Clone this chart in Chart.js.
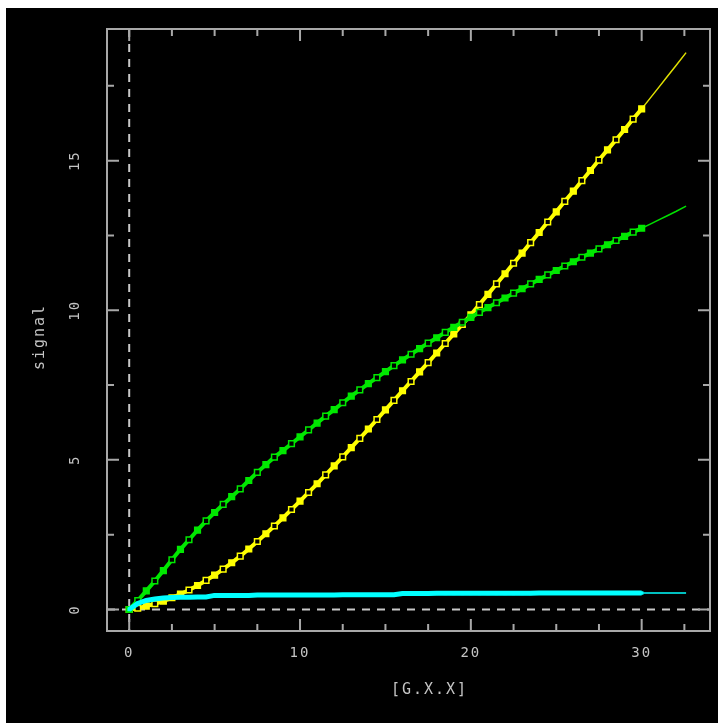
<!DOCTYPE html>
<html>
<head>
<meta charset="utf-8">
<script src="https://cdn.jsdelivr.net/npm/chart.js@4.4.1/dist/chart.umd.min.js"></script>
<style>
  body { margin: 0; background: #fff; }
  #c { position: absolute; left: 6px; top: 8px; }
</style>
</head>
<body>
<canvas id="c" width="712" height="715"></canvas>
<script>
// x positions of the marked points
var xs = [0, 0.5, 1, 1.5, 2, 2.5, 3, 3.5, 4, 4.5, 5, 5.5, 6, 6.5, 7, 7.5, 8, 8.5, 9, 9.5,
  10, 10.5, 11, 11.5, 12, 12.5, 13, 13.5, 14, 14.5, 15, 15.5, 16, 16.5, 17, 17.5, 18, 18.5, 19, 19.5,
  20, 20.5, 21, 21.5, 22, 22.5, 23, 23.5, 24, 24.5, 25, 25.5, 26, 26.5, 27, 27.5, 28, 28.5, 29, 29.5, 30];

var greenY = [0, 0.30, 0.62, 0.95, 1.30, 1.66, 2.01, 2.33, 2.65, 2.96, 3.24, 3.51, 3.77, 4.03, 4.31, 4.58, 4.84, 5.09, 5.31, 5.54,
  5.77, 6.00, 6.23, 6.46, 6.68, 6.91, 7.13, 7.34, 7.55, 7.75, 7.95, 8.15, 8.34, 8.53, 8.72, 8.90, 9.08, 9.26, 9.43, 9.60,
  9.76, 9.93, 10.09, 10.25, 10.41, 10.57, 10.72, 10.88, 11.03, 11.18, 11.33, 11.48, 11.62, 11.77, 11.91, 12.05, 12.19, 12.33, 12.47, 12.61, 12.74];

var yellowY = [0, 0.04, 0.11, 0.19, 0.28, 0.39, 0.51, 0.65, 0.80, 0.97, 1.15, 1.35, 1.56, 1.78, 2.02, 2.27, 2.53, 2.79, 3.06, 3.34,
  3.62, 3.91, 4.20, 4.50, 4.80, 5.10, 5.41, 5.72, 6.03, 6.35, 6.67, 6.99, 7.31, 7.62, 7.94, 8.25, 8.57, 8.89, 9.21, 9.53,
  9.85, 10.19, 10.53, 10.88, 11.22, 11.57, 11.91, 12.26, 12.60, 12.95, 13.29, 13.64, 13.98, 14.33, 14.67, 15.02, 15.36, 15.70, 16.04, 16.39, 16.73];

var cyanY = [0, 0.20, 0.30, 0.35, 0.38, 0.40, 0.41, 0.41, 0.42, 0.42, 0.47, 0.47, 0.47, 0.47, 0.47, 0.48, 0.48, 0.48, 0.48, 0.48,
  0.48, 0.48, 0.48, 0.48, 0.48, 0.49, 0.49, 0.49, 0.49, 0.49, 0.49, 0.49, 0.53, 0.53, 0.53, 0.53, 0.54, 0.54, 0.54, 0.54,
  0.54, 0.54, 0.54, 0.54, 0.54, 0.54, 0.54, 0.54, 0.55, 0.55, 0.55, 0.55, 0.55, 0.55, 0.55, 0.55, 0.55, 0.55, 0.55, 0.55, 0.55];

// thin continuation past the last marker
var tailX = [30, 30.5, 31, 31.5, 32, 32.6];
var greenTail = [12.74, 12.88, 13.02, 13.16, 13.30, 13.48];
var yellowTail = [16.73, 17.09, 17.45, 17.81, 18.17, 18.61];
var cyanTail = [0.55, 0.55, 0.55, 0.55, 0.55, 0.55];

var xTitle = '[G.X.X]';
var yTitle = 'signal';

var FONT = '"DejaVu Sans Mono", "Liberation Mono", monospace';
var TXT = '#c4c4c4';

function pts(x, y) {
  return x.map(function (v, i) { return { x: v, y: y[i] }; });
}

function marked(label, x, y, color) {
  return {
    label: label,
    data: pts(x, y),
    showLine: true,
    borderColor: color,
    borderWidth: 4,
    pointStyle: 'rect',
    pointRadius: 4,
    pointBorderWidth: 1.5,
    pointBorderColor: color,
    pointBackgroundColor: function (c) { return c.dataIndex % 2 ? '#000' : color; }
  };
}

function thin(label, x, y, color) {
  return {
    label: label,
    data: pts(x, y),
    showLine: true,
    borderColor: color,
    borderWidth: 1.5,
    pointRadius: 0
  };
}

var framePlugin = {
  id: 'frame',
  beforeUpdate: function (chart) { chart.ctx.letterSpacing = '2px'; },
  beforeDraw: function (chart) {
    var c = chart.ctx;
    c.save();
    c.fillStyle = '#000';
    c.fillRect(0, 0, chart.width, chart.height);
    c.restore();
    c.letterSpacing = '2px';
  },
  beforeDatasetsDraw: function (chart) {
    var c = chart.ctx, a = chart.chartArea;
    var px = chart.scales.x.getPixelForValue(0);
    var py = chart.scales.y.getPixelForValue(0);
    c.save();
    c.strokeStyle = '#c8c8c8';
    c.lineWidth = 2;
    c.setLineDash([8, 7]);
    c.beginPath();
    c.moveTo(px, a.top); c.lineTo(px, a.bottom);
    c.moveTo(a.left, py); c.lineTo(a.right, py);
    c.stroke();
    c.restore();
  },
  afterDraw: function (chart) {
    var c = chart.ctx, a = chart.chartArea;
    var sx = chart.scales.x, sy = chart.scales.y;
    c.save();
    c.strokeStyle = '#a8a8a8';
    c.lineWidth = 2;
    c.strokeRect(a.left, a.top, a.right - a.left, a.bottom - a.top);
    c.beginPath();
    for (var v = 0; v <= sx.max; v += 2.5) {
      var p = sx.getPixelForValue(v);
      var len = v % 10 === 0 ? 12 : 7;
      c.moveTo(p, a.bottom); c.lineTo(p, a.bottom - len);
      c.moveTo(p, a.top); c.lineTo(p, a.top + len);
    }
    for (var w = 0; w <= sy.max; w += 2.5) {
      var q = sy.getPixelForValue(w);
      var ln = w % 5 === 0 ? 12 : 7;
      c.moveTo(a.left, q); c.lineTo(a.left + ln, q);
      c.moveTo(a.right, q); c.lineTo(a.right - ln, q);
    }
    c.stroke();

    // axis titles
    c.fillStyle = TXT;
    c.font = '15px ' + FONT;
    c.letterSpacing = '2px';
    c.textAlign = 'center';
    c.textBaseline = 'middle';
    c.fillText(xTitle, (a.left + a.right) / 2 + 21, a.bottom + 59);
    c.translate(34, (a.top + a.bottom) / 2 + 7);
    c.rotate(-Math.PI / 2);
    c.fillText(yTitle, 0, 0);
    c.restore();
  }
};

var chart = new Chart(document.getElementById('c').getContext('2d'), {
  type: 'scatter',
  data: {
    datasets: [
      {
        label: 'cyan',
        data: pts(xs, cyanY),
        showLine: true,
        borderColor: '#00ffff',
        borderWidth: 5,
        pointStyle: 'rect',
        pointRadius: 2.5,
        pointBorderWidth: 0,
        pointBackgroundColor: '#00ffff'
      },
      marked('green', xs, greenY, '#00e800'),
      marked('yellow', xs, yellowY, '#ffff00'),
      thin('cyan tail', tailX, cyanTail, '#00ffff'),
      thin('green tail', tailX, greenTail, '#00e000'),
      thin('yellow tail', tailX, yellowTail, '#e0e000')
    ]
  },
  options: {
    responsive: false,
    animation: false,
    devicePixelRatio: 1,
    layout: { padding: { top: 21, right: 8, left: 0, bottom: 0 } },
    plugins: { legend: { display: false }, tooltip: { enabled: false } },
    scales: {
      x: {
        type: 'linear',
        position: 'bottom',
        min: -1.3,
        max: 34.0,
        afterFit: function (s) { s.height = 92; s.paddingLeft = 0; s.paddingRight = 0; },
        grid: { display: false },
        border: { display: false },
        ticks: { stepSize: 10, includeBounds: false, maxRotation: 0, padding: 6, color: TXT, font: { family: FONT, size: 14 } }
      },
      y: {
        type: 'linear',
        position: 'left',
        min: -0.72,
        max: 19.4,
        afterFit: function (s) { s.width = 101; s.paddingTop = 0; s.paddingBottom = 0; },
        grid: { display: false },
        border: { display: false },
        ticks: { stepSize: 5, includeBounds: false, minRotation: 90, maxRotation: 90, crossAlign: 'center', padding: 13, color: TXT, font: { family: FONT, size: 14 } }
      }
    }
  },
  plugins: [framePlugin]
});
</script>
</body>
</html>
